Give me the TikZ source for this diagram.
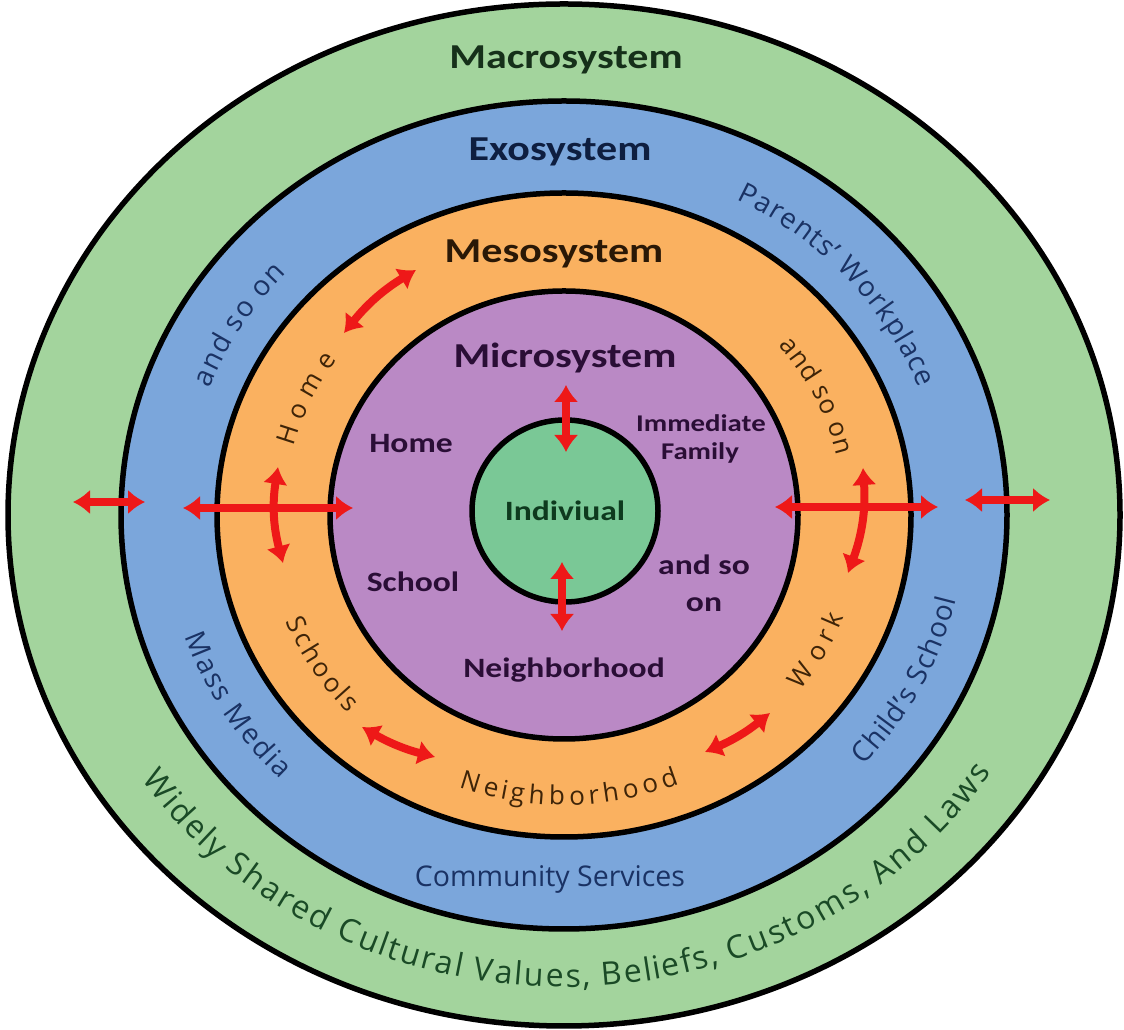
\documentclass[tikz,border=0pt]{standalone}
\usepackage{fontspec}
\setmainfont{Open Sans}
\newfontfamily\calfont{Carlito}[FakeStretch=1.2]
\usetikzlibrary{arrows.meta,decorations.text}

\definecolor{macroG}{RGB}{163,212,157}
\definecolor{exoB}{RGB}{123,166,219}
\definecolor{mesoO}{RGB}{250,177,96}
\definecolor{microP}{RGB}{186,137,197}
\definecolor{indG}{RGB}{122,200,150}
\definecolor{arrowR}{RGB}{238,24,24}
\definecolor{tMacro}{RGB}{22,48,26}
\definecolor{tExo}{RGB}{14,30,64}
\definecolor{tMeso}{RGB}{42,24,6}
\definecolor{tMicro}{RGB}{42,14,54}
\definecolor{tInd}{RGB}{14,58,30}
\definecolor{bandGreen}{RGB}{26,74,38}
\definecolor{bandNavy}{RGB}{26,50,100}
\definecolor{bandBrown}{RGB}{62,36,8}

\newcommand\myTitleFont{\calfont\bfseries\fontsize{35}{40}\selectfont}
\newcommand\myLabelFont{\calfont\bfseries\fontsize{28}{32}\selectfont}
\newcommand\mySmallLabelFont{\calfont\bfseries\fontsize{24}{28}\selectfont}
\newcommand\myOrFont{\fontsize{26}{30}\selectfont}
\newcommand\myBlFont{\fontsize{28}{32}\selectfont}
\newcommand\myGrFont{\fontsize{32}{36}\selectfont}

\tikzset{
  ring/.style={draw=black, line width=5.5pt},
  systitle/.style={anchor=base, inner sep=0pt, font=\myTitleFont},
  innerlabel/.style={anchor=base, inner sep=0pt, font=\myLabelFont, text=tMicro},
  redarrow/.style={draw=arrowR, line width=8pt, {Latex[length=17pt,width=25pt]}-{Latex[length=17pt,width=25pt]}},
  curvtext/.style n args={3}{decorate, decoration={text effects along path, text={#1},
      text effects/.cd, fit text to path,
      characters={anchor=base, inner sep=0pt, transform shape, font=#2, text=#3}}},
}

\begin{document}
\begin{tikzpicture}[x=1pt,y=1pt]
\useasboundingbox (0,0) rectangle (1124,1030);
\fill[white] (0,0) rectangle (1124,1030);
\coordinate (C) at (564,515);
\coordinate (Ci) at (565,519);

% rings
\draw[ring, fill=macroG] (C) ellipse [x radius=556, y radius=511];
\draw[ring, fill=exoB] (C) ellipse [x radius=443, y radius=414];
\draw[ring, fill=mesoO] (C) ellipse [x radius=347, y radius=322];
\draw[ring, fill=microP] (C) ellipse [x radius=234, y radius=224];
\draw[ring, fill=indG] (Ci) ellipse [x radius=93, y radius=91];

% titles
\node[systitle, text=tMacro] (macro) at (566,961) {Macrosystem};
\node[systitle, text=tExo] (exo) at (560,869) {Exosystem};
\node[systitle, text=tMeso] (meso) at (554,767) {Mesosystem};
\node[systitle, text=tMicro] (micro) at (565,662) {Microsystem};

% microsystem labels
\node[innerlabel] (mhome) at (411,577) {Home};
\node[innerlabel, font=\mySmallLabelFont] (imm) at (701,598) {Immediate};
\node[innerlabel, font=\mySmallLabelFont] (fam) at (700,570) {Family};
\node[innerlabel] (mschool) at (413,438) {School};
\node[innerlabel] (mandso) at (704,455) {and so};
\node[innerlabel] (mon) at (704,418) {on};
\node[innerlabel] (mneigh) at (564,352) {Neighborhood};
\node[innerlabel, text=tInd] (indiv) at (565,509) {Indiviual};

% exosystem straight label
\node[anchor=base, inner sep=0pt, font=\fontsize{28.5}{32}\selectfont, text=bandNavy] (comm) at (550,143) {Community Services};

% mesosystem curved labels
\path[curvtext={Home}{\myOrFont}{bandBrown}] (C) ++(165:280 and 264) arc[start angle=165, end angle=144, x radius=280, y radius=264];
\path[curvtext={and so on}{\myOrFont}{bandBrown}] (C) ++(40:280 and 264) arc[start angle=40, end angle=13, x radius=280, y radius=264];
\path[curvtext={Work}{\myOrFont}{bandBrown}] (C) ++(-38:300 and 285) arc[start angle=-38, end angle=-21, x radius=300, y radius=285];
\path[curvtext={Neighborhood}{\myOrFont}{bandBrown}] (C) ++(250:308 and 290) arc[start angle=250, end angle=292, x radius=308, y radius=290];
\path[curvtext={Schools}{\myOrFont}{bandBrown}] (C) ++(202:300 and 285) arc[start angle=202, end angle=224, x radius=300, y radius=285];

% exosystem curved labels
\path[curvtext={and so on}{\myBlFont}{bandNavy}] (C) ++(159:380 and 354) arc[start angle=159, end angle=137, x radius=380, y radius=354];
\path[curvtext={Parents’ Workplace}{\myBlFont}{bandNavy}] (C) ++(63:380 and 354) arc[start angle=63, end angle=21, x radius=380, y radius=354];
\path[curvtext={Child’s School}{\myBlFont}{bandNavy}] (C) ++(-42:403 and 375) arc[start angle=-42, end angle=-13, x radius=403, y radius=375];
\path[curvtext={Mass Media}{\myBlFont}{bandNavy}] (C) ++(199:401 and 374) arc[start angle=199, end angle=225, x radius=401, y radius=374];

% macrosystem curved label
\path[curvtext={Widely Shared Cultural Values, Beliefs, Customs, And Laws}{\myGrFont}{bandGreen}] (C) ++(214:510 and 472) arc[start angle=214, end angle=327, x radius=510, y radius=472];

% arrow end points
\coordinate (a1L) at (73,528);   \coordinate (a1R) at (145,528);
\coordinate (a2L) at (183,522);  \coordinate (a2R) at (353,522);
\coordinate (a3T) at (278,563);  \coordinate (a3B) at (283,467);
\coordinate (a4L) at (775,523);  \coordinate (a4R) at (938,523);
\coordinate (a5L) at (965,530);  \coordinate (a5R) at (1050,530);
\coordinate (a6T) at (863,562);  \coordinate (a6B) at (848,457);
\coordinate (a7T) at (566,645);  \coordinate (a7B) at (566,578);
\coordinate (a8T) at (562,468);  \coordinate (a8B) at (562,399);
\coordinate (a9A) at (344,697);  \coordinate (a9B) at (416,760);
\coordinate (a10A) at (362,303); \coordinate (a10B) at (435,273);
\coordinate (a11A) at (705,278); \coordinate (a11B) at (770,317);

% arrows
\draw[redarrow] (a1L) -- (a1R);
\draw[redarrow] (a2L) -- (a2R);
\draw[redarrow] (a3T) to[bend right=12] (a3B);
\draw[redarrow] (a4L) -- (a4R);
\draw[redarrow] (a5L) -- (a5R);
\draw[redarrow] (a6T) to[bend left=12] (a6B);
\draw[redarrow] (a7T) -- (a7B);
\draw[redarrow] (a8T) -- (a8B);
\draw[redarrow] (a9A) to[bend left=10] (a9B);
\draw[redarrow] (a10A) to[bend right=8] (a10B);
\draw[redarrow] (a11A) to[bend right=8] (a11B);
\end{tikzpicture}
\end{document}
